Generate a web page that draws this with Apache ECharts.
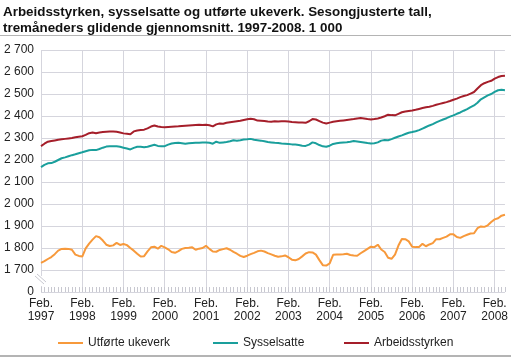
<!DOCTYPE html>
<html>
<head>
<meta charset="utf-8">
<script src="https://cdn.jsdelivr.net/npm/echarts@6/dist/echarts.min.js"></script>
<style>
html,body{margin:0;padding:0;background:#fff;}
#c{width:511px;height:357px;}
</style>
</head>
<body>
<div id="c"></div>
<script>
// Monthly, Feb 1997 .. May 2008 (three-month moving averages), 1 000 persons
const startYear = 1997;
const startMonth = 1; // 0 = Jan, 1 = Feb
const monthNames = ['Jan.','Feb.','Mars','Apr.','Mai','Juni','Juli','Aug.','Sep.','Okt.','Nov.','Des.'];

const utforteUkeverk = [
1732,1740,1750,1759,1772,1788,1796,1797,1796,1792,1770,1764,
1761,1798,1820,1838,1854,1849,1834,1815,1809,1812,1823,1814,
1818,1813,1800,1788,1774,1761,1763,1785,1803,1806,1797,1810,
1803,1794,1782,1778,1786,1796,1800,1801,1803,1792,1797,1800,
1810,1796,1784,1783,1791,1795,1799,1792,1782,1774,1764,1759,
1765,1772,1778,1785,1788,1784,1777,1771,1765,1760,1762,1766,
1758,1747,1744,1750,1762,1775,1781,1780,1770,1745,1722,1720,
1730,1769,1770,1771,1772,1774,1768,1766,1765,1776,1786,1796,
1806,1804,1815,1793,1782,1756,1751,1770,1811,1841,1840,1830,
1806,1804,1805,1819,1808,1816,1822,1840,1840,1846,1852,1862,
1862,1850,1846,1854,1860,1866,1867,1890,1898,1896,1903,1918,
1930,1935,1947,1951
];

const sysselsatte = [
2168,2178,2185,2186,2192,2200,2208,2212,2217,2222,2226,2231,
2235,2240,2244,2246,2245,2250,2256,2261,2263,2263,2262,2260,
2256,2252,2248,2255,2260,2260,2258,2260,2265,2269,2264,2262,
2263,2270,2275,2277,2278,2276,2274,2276,2277,2278,2278,2279,
2280,2278,2274,2283,2278,2280,2282,2285,2290,2288,2290,2293,
2294,2296,2292,2290,2288,2285,2282,2280,2278,2277,2275,2274,
2273,2271,2270,2268,2265,2264,2270,2280,2276,2268,2262,2260,
2265,2273,2276,2278,2280,2281,2283,2286,2284,2282,2280,2277,
2275,2276,2280,2288,2291,2290,2295,2301,2307,2312,2318,2324,
2327,2331,2336,2343,2350,2357,2363,2371,2378,2384,2390,2397,
2403,2410,2416,2424,2431,2440,2448,2460,2476,2485,2494,2500,
2510,2517,2519,2517
];

const arbeidsstyrken = [
2263,2274,2283,2286,2289,2292,2294,2296,2298,2300,2303,2306,
2308,2314,2322,2325,2322,2325,2327,2328,2329,2329,2328,2325,
2321,2319,2317,2330,2334,2336,2338,2344,2352,2357,2352,2350,
2349,2350,2351,2352,2353,2355,2356,2357,2358,2359,2360,2359,
2360,2358,2353,2362,2366,2365,2369,2372,2374,2376,2378,2382,
2385,2387,2385,2379,2378,2377,2375,2374,2376,2375,2376,2376,
2375,2373,2372,2370,2370,2369,2376,2386,2384,2377,2370,2366,
2370,2374,2376,2378,2380,2382,2384,2386,2389,2391,2389,2386,
2384,2386,2389,2393,2399,2406,2404,2403,2410,2417,2420,2423,
2425,2428,2432,2436,2440,2442,2446,2451,2455,2459,2463,2468,
2474,2479,2486,2491,2495,2502,2509,2525,2540,2549,2555,2560,
2570,2577,2582,2583
];

const seriesNames = ['Utførte ukeverk','Sysselsatte','Arbeidsstyrken'];
const seriesColors = ['#f7993b','#1a9f9c','#a51e2a'];
const yTicks = [1600,1700,1800,1900,2000,2100,2200,2300,2400,2500,2600,2700];
const yTickLabels = ['0','1 700','1 800','1 900','2 000','2 100','2 200','2 300','2 400','2 500','2 600','2 700'];

const categories = [];
for (let i = 0; i < arbeidsstyrken.length; i++) {
  const m = (startMonth + i) % 12;
  const y = startYear + Math.floor((startMonth + i) / 12);
  categories.push(monthNames[m] + '\n' + y);
}
const isFeb = (idx) => idx % 12 === 0;

const chart = echarts.init(document.getElementById('c'), null, {renderer:'canvas'});
const font = 'Liberation Sans, Arial, Helvetica, sans-serif';

const option = {
  animation: false,
  backgroundColor: '#fff',
  textStyle: {fontFamily: font},
  title: {
    text: 'Arbeidsstyrken, sysselsatte og utførte ukeverk. Sesongjusterte tall,\ntremåneders glidende gjennomsnitt. 1997-2008. 1 000',
    left: -2, top: 0,
    textStyle: {fontSize: 13.4, fontWeight: 'bold', color: '#111', lineHeight: 15.5, fontFamily: font}
  },
  legend: [0,1,2].map((k) => ({
    data: [seriesNames[k]],
    left: [58, 213, 344][k],
    top: 337,
    padding: 0,
    icon: 'rect',
    itemWidth: 25,
    itemHeight: 2,
    itemGap: 4,
    textStyle: {fontSize: 12, color: '#222', fontFamily: font}
  })),
  grid: {left: 41, right: 4, top: 50, bottom: 65, containLabel: false},
  xAxis: {
    type: 'category',
    data: categories,
    boundaryGap: false,
    axisLine: {show: false},
    axisTick: {show: true, inside: true, length: 5, interval: 0, lineStyle: {color: '#c8c8d0', width: 1}},
    axisLabel: {
      interval: (idx) => isFeb(idx),
      fontSize: 12, lineHeight: 13, color: '#222', margin: 5, fontFamily: font
    },
    splitLine: {show: true, interval: (idx) => isFeb(idx), lineStyle: {color: '#d5d5dd', width: 1}}
  },
  yAxis: {
    type: 'value',
    min: yTicks[0], max: yTicks[yTicks.length-1], interval: 100,
    axisLine: {show: false},
    axisTick: {show: false},
    axisLabel: {
      fontSize: 12, color: '#222', margin: 7, fontFamily: font,
      formatter: (v) => { const i = yTicks.indexOf(v); return i >= 0 ? yTickLabels[i] : ''; }
    },
    splitLine: {show: true, lineStyle: {color: '#d5d5dd', width: 1}}
  },
  series: [utforteUkeverk, sysselsatte, arbeidsstyrken].map((d, k) => ({
    name: seriesNames[k],
    type: 'line',
    data: d,
    symbol: 'none',
    smooth: false,
    lineStyle: {color: seriesColors[k], width: 2},
    itemStyle: {color: seriesColors[k]},
    z: 3
  }))
};
chart.setOption(option);

// decorations: separators and axis break symbol
const x0 = chart.convertToPixel({xAxisIndex: 0}, 0);
const yBreak = chart.convertToPixel({yAxisIndex: 0}, 1650);
chart.setOption({
  graphic: [
    {type:'line', shape:{x1:0, y1:35.5, x2:511, y2:35.5}, style:{stroke:'#b4b4b4', lineWidth:1}, z:10},
    {type:'line', shape:{x1:0, y1:356, x2:511, y2:356}, style:{stroke:'#b4b4b4', lineWidth:2}, z:10},
    {type:'rect', shape:{x:x0-4, y:yBreak-5, width:8, height:10}, style:{fill:'#fff'}, z:10},
    {type:'line', shape:{x1:x0-6, y1:yBreak-5, x2:x0+3, y2:yBreak+3}, style:{stroke:'#c8c8d0', lineWidth:1}, z:11},
    {type:'line', shape:{x1:x0-4, y1:yBreak-7, x2:x0+5, y2:yBreak+1}, style:{stroke:'#c8c8d0', lineWidth:1}, z:11}
  ]
});
</script>
</body>
</html>
